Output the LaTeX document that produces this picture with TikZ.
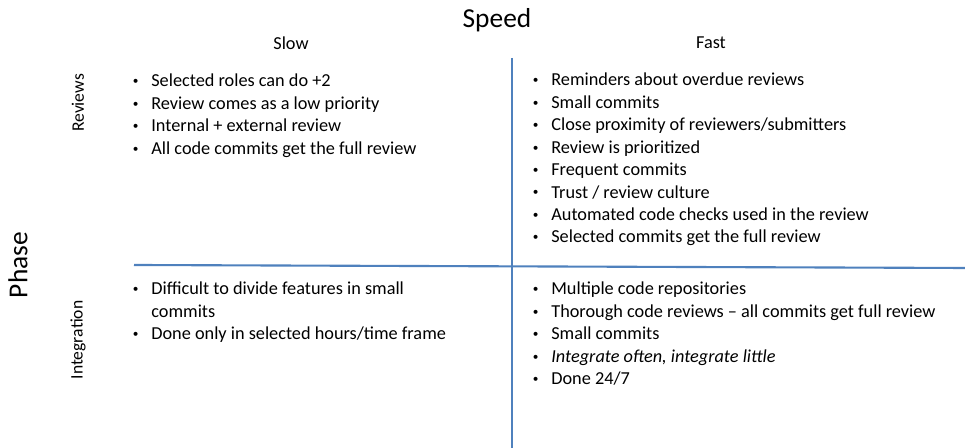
\documentclass[tikz,border=0pt]{standalone}
\usepackage{fontspec}
\setmainfont{Carlito}
\usepackage{xcolor}
\usepackage{graphicx}
\usetikzlibrary{positioning,calc}
\definecolor{axis}{RGB}{79,129,189}
\newcommand{\bul}{\makebox[0.42cm][l]{\hspace{0.05cm}\raisebox{0.12em}{\scalebox{0.62}{\textbullet}}}}

\begin{document}
\begin{tikzpicture}[
    big/.style={font=\fontsize{15.6}{18}\selectfont,inner sep=0pt},
    hd/.style={font=\fontsize{10.4}{12.76}\selectfont,inner sep=0pt},
    side/.style={font=\fontsize{10}{12}\selectfont,inner sep=0pt,rotate=90},
    lst/.style={font=\fontsize{10.4}{12.76}\selectfont,inner sep=0pt,anchor=base west},
    ax/.style={axis,line width=1.2pt}]

    \useasboundingbox (0,0) rectangle (19.3,8.96);

    % titles
    \node[big] (speed) at (9.94,8.56) {Speed};
    \node[big,rotate=90] (phase) at (0.36,3.66) {Phase};
    \node[hd] (slow) at (5.82,8.10) {Slow};
    \node[hd] (fast) at (14.22,8.10) {Fast};
    \node[side] (rev) at (1.56,6.90) {Reviews};
    \node[side] (integ) at (1.56,2.16) {Integration};

    % axes
    \coordinate (vtop) at (10.24,7.80);
    \coordinate (vbot) at (10.24,0);
    \coordinate (hl) at (2.68,3.66);
    \coordinate (hr) at (19.3,3.60);
    \draw[ax] (vtop) -- (vbot);
    \draw[ax] (hl) -- (hr);

    % quadrants
    \node[lst] (sr) at (2.60,7.22) {\begin{tabular}[t]{@{}l@{}}
        \bul Selected roles can do +2\\
        \bul Review comes as a low priority\\
        \bul Internal + external review\\
        \bul All code commits get the full review
      \end{tabular}};
    \node[lst] (fr) at (10.60,7.24) {\begin{tabular}[t]{@{}l@{}}
        \bul Reminders about overdue reviews\\
        \bul Small commits\\
        \bul Close proximity of reviewers/submitters\\
        \bul Review is prioritized\\
        \bul Frequent commits\\
        \bul Trust / review culture\\
        \bul Automated code checks used in the review\\
        \bul Selected commits get the full review
      \end{tabular}};
    \node[lst] (si) at (2.60,3.06) {\begin{tabular}[t]{@{}l@{}}
        \bul Difficult to divide features in small\\
        \hspace*{0.42cm}commits\\
        \bul Done only in selected hours/time frame
      \end{tabular}};
    \node[lst] (fi) at (10.60,3.06) {\begin{tabular}[t]{@{}l@{}}
        \bul Multiple code repositories\\
        \bul Thorough code reviews -- all commits get full review\\
        \bul Small commits\\
        \bul \textit{Integrate often, integrate little}\\
        \bul Done 24/7
      \end{tabular}};
\end{tikzpicture}
\end{document}
